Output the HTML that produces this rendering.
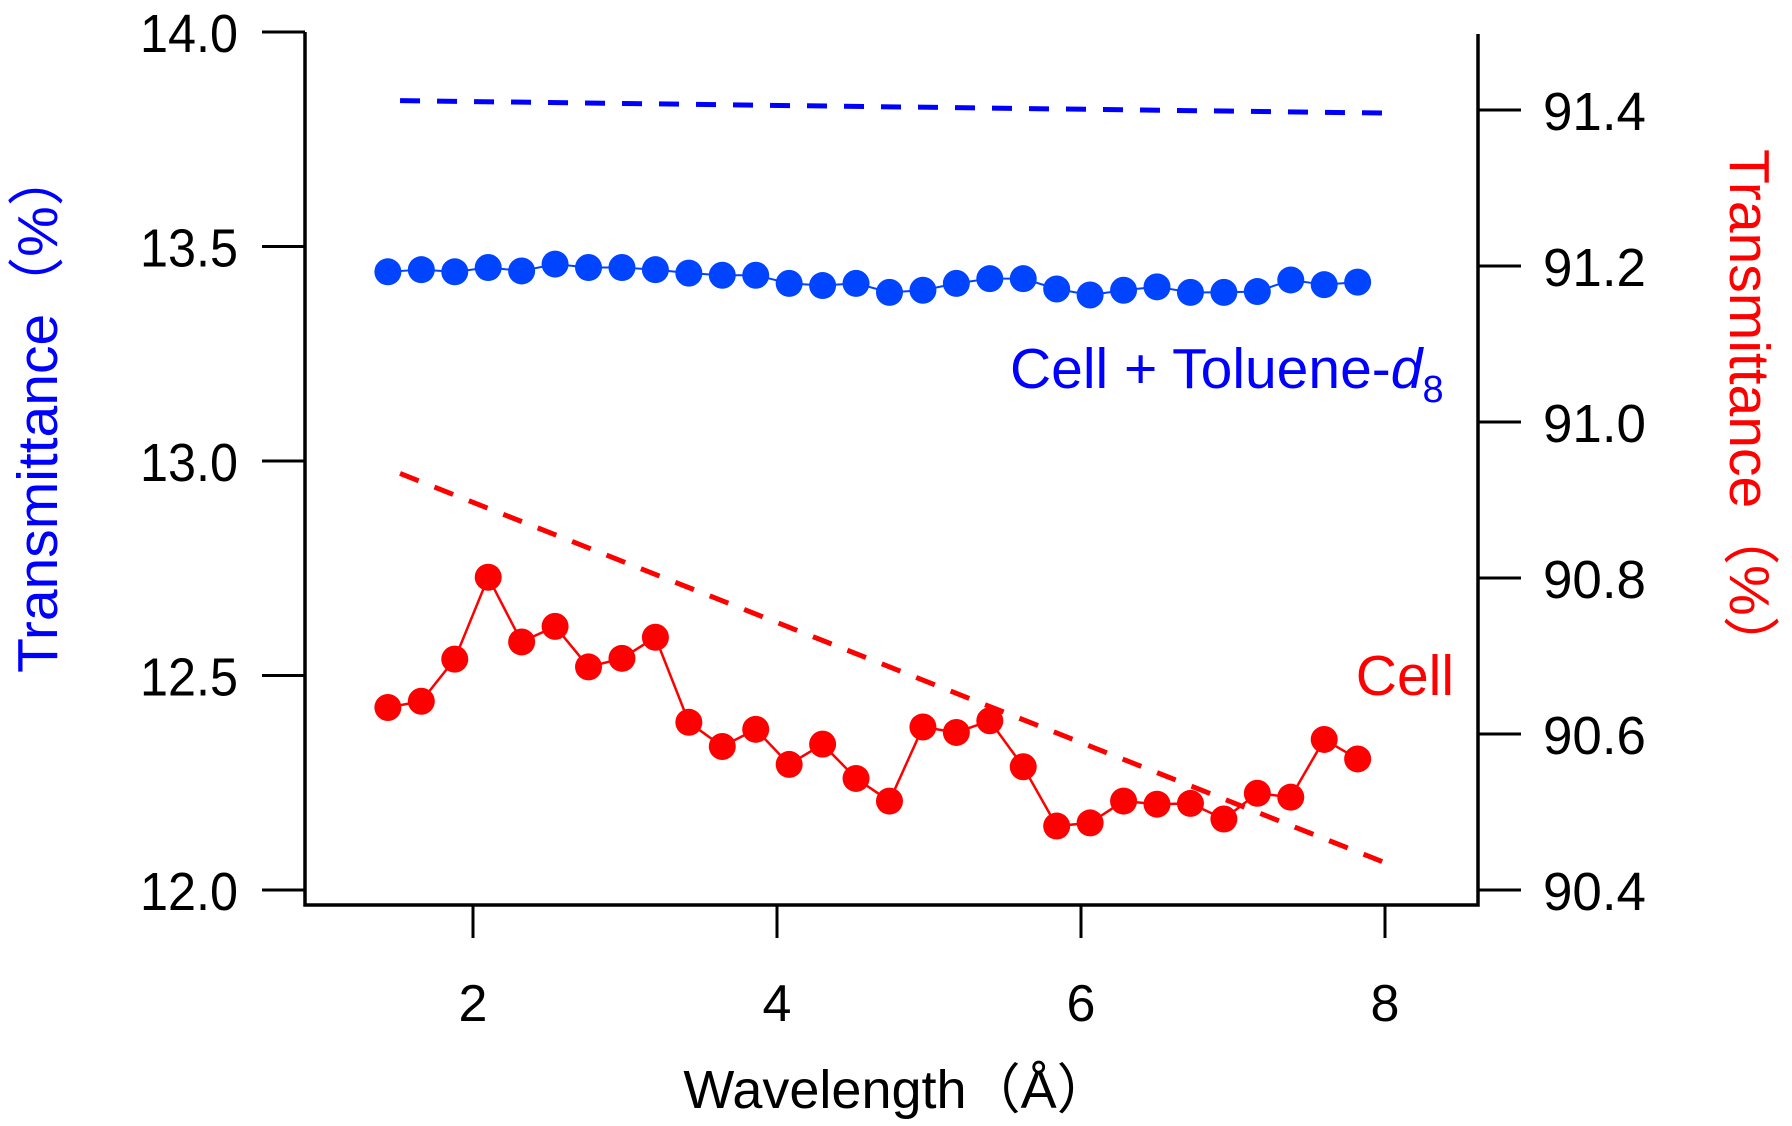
<!DOCTYPE html>
<html><head><meta charset="utf-8"><style>
html,body{margin:0;padding:0;background:#fff;}
svg{display:block;}
text{font-family:"Liberation Sans","Noto Sans CJK JP",sans-serif;}
</style></head><body>
<svg id="chart" width="1792" height="1126" viewBox="0 0 1792 1126">
<g id="axes"></g>
<g id="marks"></g>
<text x="1010" y="388" font-size="57" fill="#0000ff">Cell + Toluene-<tspan font-style="italic">d</tspan><tspan font-size="38" dy="14">8</tspan></text>
<text x="1454" y="695" font-size="57" fill="#ff0000" text-anchor="end">Cell</text>
<text transform="translate(897,1108)" font-size="54" text-anchor="middle" fill="#000">Wavelength（Å）</text>
<text transform="translate(57,411) rotate(-90)" font-size="57" text-anchor="middle" fill="#0000ff">Transmittance（%）</text>
<text transform="translate(1730,411) rotate(90)" font-size="57" text-anchor="middle" fill="#ff0000">Transmittance（%）</text>
</svg>
<script>
const xTicks = [2, 4, 6, 8];
const leftTicks = [12.0, 12.5, 13.0, 13.5, 14.0];
const rightTicks = [90.4, 90.6, 90.8, 91.0, 91.2, 91.4];
const wavelengths = [1.44,1.66,1.88,2.10,2.32,2.54,2.76,2.98,3.20,3.42,3.64,3.86,4.08,4.30,4.52,4.74,4.96,5.18,5.40,5.62,5.84,6.06,6.28,6.50,6.72,6.94,7.16,7.38,7.60,7.82];
const tolueneValues = [13.441,13.446,13.441,13.451,13.443,13.459,13.451,13.451,13.446,13.438,13.433,13.433,13.414,13.409,13.414,13.393,13.398,13.414,13.425,13.425,13.401,13.387,13.398,13.406,13.393,13.393,13.395,13.422,13.411,13.417];
const cellValues = [90.634,90.642,90.696,90.801,90.718,90.738,90.686,90.697,90.724,90.615,90.584,90.606,90.561,90.587,90.543,90.514,90.609,90.602,90.617,90.558,90.482,90.486,90.514,90.510,90.511,90.491,90.524,90.519,90.593,90.568];
const fitX = [1.52, 8.0];
const tolueneFit = [13.840, 13.811];
const cellFit = [90.934, 90.435];

const NS = "http://www.w3.org/2000/svg";
const X = v => 473 + (v - 2) * 152;
const YL = v => 890 - (v - 12) * 429;
const YR = v => 890 - (v - 90.4) * 780;
function mk(parent, tag, attrs) {
  const e = document.createElementNS(NS, tag);
  for (const k in attrs) e.setAttribute(k, attrs[k]);
  parent.appendChild(e);
  return e;
}
const axes = document.getElementById('axes');
const marks = document.getElementById('marks');

let a = mk(axes, 'path', {d: 'M305,32 V905 H1478 V34', fill: 'none', stroke: '#000', 'stroke-width': 3.5});



xTicks.forEach(t => {
  const l = mk(axes, 'line', {x1: X(t), x2: X(t), y1: 905, y2: 938, stroke: '#000', 'stroke-width': 3});
  
  
  const tx = mk(axes, 'text', {x: X(t), y: 1021, 'font-size': 52, 'text-anchor': 'middle', fill: '#000'});
  tx.textContent = String(t);
  
  
});
leftTicks.forEach(t => {
  const l = mk(axes, 'line', {x1: 262, x2: 305, y1: YL(t), y2: YL(t), stroke: '#000', 'stroke-width': 3});
  
  
  const tx = mk(axes, 'text', {x: 238, y: YL(t) + 20, 'font-size': 54, 'text-anchor': 'end', fill: '#000', textLength: 98, lengthAdjust: 'spacingAndGlyphs'});
  tx.textContent = t.toFixed(1);
  
  
});
rightTicks.forEach(t => {
  const l = mk(axes, 'line', {x1: 1478, x2: 1521, y1: YR(t), y2: YR(t), stroke: '#000', 'stroke-width': 3});
  
  
  const tx = mk(axes, 'text', {x: 1543, y: YR(t) + 20, 'font-size': 54, fill: '#000', textLength: 103, lengthAdjust: 'spacingAndGlyphs'});
  tx.textContent = t.toFixed(1);
  
  
});

let f1 = mk(marks, 'line', {x1: X(fitX[0]), x2: X(fitX[1]), y1: YL(tolueneFit[0]), y2: YL(tolueneFit[1]), stroke: '#0000ff', 'stroke-width': 5, 'stroke-dasharray': '20 17'});


let f2 = mk(marks, 'line', {x1: X(fitX[0]), x2: X(fitX[1]), y1: YR(cellFit[0]), y2: YR(cellFit[1]), stroke: '#ff0000', 'stroke-width': 5, 'stroke-dasharray': '20 17'});



let p1 = mk(marks, 'polyline', {points: wavelengths.map((w, i) => X(w) + ',' + YL(tolueneValues[i])).join(' '), fill: 'none', stroke: '#0044ff', 'stroke-width': 2});


let p2 = mk(marks, 'polyline', {points: wavelengths.map((w, i) => X(w) + ',' + YR(cellValues[i])).join(' '), fill: 'none', stroke: '#ff0000', 'stroke-width': 2.5});



wavelengths.forEach((w, i) => {
  const c = mk(marks, 'circle', {cx: X(w), cy: YL(tolueneValues[i]), r: 13.5, fill: '#0044ff'});
  
  
  const d = mk(marks, 'circle', {cx: X(w), cy: YR(cellValues[i]), r: 13.5, fill: '#ff0000'});
  
  
});
</script>
</body></html>
